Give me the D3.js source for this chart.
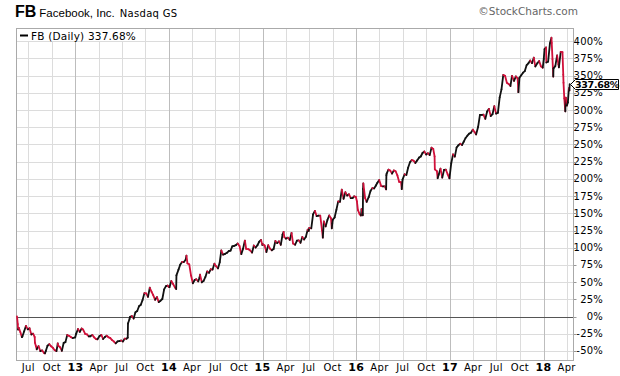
<!DOCTYPE html>
<html><head><meta charset="utf-8">
<script src="https://cdn.jsdelivr.net/npm/d3@7"></script>
<style>body{margin:0;background:#fff}svg{display:block}</style>
</head><body><svg id="c" width="620" height="376"></svg>
<script>
// ---- data: FB daily % change since first close ----
const dates2012 = ["05-18","05-21","05-22","05-25","05-31","06-06","06-08","06-15","06-22","06-29","07-06","07-13","07-20","07-26","07-27","07-31","08-03","08-10","08-17","08-24","08-31","09-04","09-07","09-14","09-21","09-28","10-05","10-12","10-19","10-24","10-26","11-02","11-09","11-16","11-23","11-30","12-07","12-14","12-21","12-31"];
const pct2012 = [0,-11.0,-18.9,-16.5,-22.6,-29.9,-29.1,-21.5,-13.6,-18.7,-17.0,-26.1,-24.8,-29.8,-38.0,-43.2,-47.6,-43.0,-50.2,-49.2,-52.8,-53.6,-50.4,-42.5,-40.2,-43.3,-45.3,-48.9,-50.3,-39.2,-42.6,-44.6,-49.8,-38.4,-37.2,-26.8,-28.1,-29.9,-31.3,-30.4];
const dates2013 = ["01-04","01-11","01-18","01-25","01-31","02-08","02-15","02-22","02-28","03-08","03-15","03-22","03-28","04-05","04-12","04-19","04-26","05-03","05-10","05-17","05-24","05-31","06-07","06-14","06-21","06-28","07-05","07-12","07-19","07-24","07-25","07-31","08-02","08-09","08-16","08-23","08-30","09-06","09-13","09-20","09-27","10-04","10-11","10-18","10-25","10-31","11-08","11-15","11-22","11-29","12-06","12-13","12-20","12-27","12-31"];
const pct2013 = [-24.8,-18.1,-22.4,-17.5,-19.0,-25.3,-25.9,-29.0,-28.7,-26.9,-30.3,-32.7,-33.1,-28.4,-26.7,-32.7,-29.8,-27.9,-30.2,-31.3,-34.3,-36.3,-39.1,-36.3,-35.8,-34.9,-36.3,-32.2,-32.3,-30.7,-10.1,-3.7,-0.5,0.7,-3.0,6.1,8.0,15.0,17.1,24.2,34.0,33.5,28.5,41.8,35.9,31.3,24.3,28.2,20.9,23.0,25.4,39.5,44.2,45.0,43.0];
const dates2014 = ["01-03","01-10","01-17","01-24","01-29","01-30","02-07","02-14","02-21","02-28","03-07","03-10","03-14","03-21","03-28","04-04","04-11","04-17","04-25","04-30","05-02","05-09","05-16","05-23","05-30","06-06","06-13","06-20","06-27","07-03","07-11","07-18","07-24","07-31","08-08","08-15","08-22","08-29","09-05","09-12","09-19","09-26","10-03","10-10","10-17","10-24","10-29","11-07","11-14","11-21","11-28","12-05","12-12","12-19","12-26","12-31"];
const pct2014 = [42.7,51.6,47.3,42.4,40.0,59.8,68.2,75.5,79.4,79.1,82.6,88.4,77.1,75.9,59.5,48.4,53.1,54.2,51.0,56.4,60.8,49.7,51.8,57.5,65.6,63.5,68.7,68.3,76.8,73.4,69.9,79.0,96.1,90.0,91.1,92.6,95.1,95.7,102.1,102.7,103.8,106.1,102.6,90.7,98.7,110.4,98.4,97.8,95.9,92.9,103.2,100.2,103.6,108.9,111.3,104.1];
const dates2015 = ["01-02","01-09","01-16","01-23","01-30","02-06","02-13","02-20","02-27","03-06","03-13","03-20","03-24","03-27","04-02","04-10","04-17","04-24","04-30","05-08","05-15","05-22","05-29","06-05","06-12","06-19","06-26","06-30","07-02","07-10","07-17","07-24","07-31","08-07","08-14","08-21","08-24","08-28","09-04","09-11","09-18","09-25","09-28","09-30","10-02","10-09","10-16","10-23","10-30","11-06","11-13","11-20","11-27","12-04","12-11","12-18","12-24","12-31"];
const pct2015 = [105.2,103.3,93.7,103.6,98.6,96.2,98.1,109.8,106.6,109.3,104.2,119.2,123.1,115.3,113.3,114.6,111.3,121.4,106.0,104.3,110.3,110.7,107.1,115.6,111.9,115.8,126.3,124.3,128.9,128.1,148.4,153.6,145.9,146.7,146.7,125.1,114.7,138.1,130.9,140.3,146.9,142.7,128.1,135.2,140.8,143.9,155.1,167.3,166.7,184.5,171.1,180.7,175.8,177.7,172.0,172.1,174.7,173.8];
const dates2016 = ["01-04","01-08","01-15","01-20","01-22","01-27","01-28","01-29","02-05","02-11","02-19","02-26","03-04","03-11","03-18","03-24","03-31","04-08","04-15","04-22","04-27","04-28","04-29","05-06","05-13","05-20","05-27","06-03","06-10","06-17","06-24","06-27","06-30","07-08","07-15","07-22","07-29","08-05","08-12","08-19","08-26","09-02","09-09","09-16","09-23","09-30","10-07","10-14","10-21","10-28","11-02","11-03","11-11","11-14","11-18","11-25","12-02","12-09","12-16","12-23","12-30"];
const pct2016 = [167.4,154.6,148.4,146.8,156.2,147.1,185.4,193.5,172.2,166.6,173.5,182.3,186.6,186.1,190.4,194.4,198.4,189.4,189.1,189.2,184.8,205.3,207.6,213.4,212.1,207.7,212.3,211.1,205.0,195.6,195.4,185.0,198.9,206.7,205.7,216.5,224.2,227.4,226.6,223.2,226.9,230.9,232.5,237.6,239.9,235.5,237.4,234.5,245.5,243.4,232.6,213.9,211.3,201.0,206.1,214.9,201.9,213.1,213.5,206.7,200.9];
const dates2017 = ["01-06","01-13","01-20","01-27","02-02","02-10","02-17","02-24","03-03","03-10","03-17","03-24","03-31","04-07","04-13","04-21","04-28","05-05","05-12","05-19","05-26","06-02","06-09","06-16","06-23","06-30","07-07","07-14","07-21","07-28","08-04","08-11","08-18","08-25","08-31","09-08","09-15","09-22","09-25","09-29","10-06","10-13","10-20","10-27","11-03","11-10","11-17","11-24","11-30","12-08","12-15","12-22","12-29"];
const pct2017 = [222.8,235.7,232.3,245.7,248.5,251.0,249.3,254.3,259.5,262.8,265.8,267.1,271.6,268.2,264.6,275.8,293.0,293.0,293.2,287.3,297.9,301.8,291.3,294.0,305.6,294.9,296.1,318.4,330.1,351.1,349.8,339.6,337.9,335.0,349.8,342.4,349.0,346.1,326.0,346.9,350.5,354.4,356.7,365.3,368.0,372.0,368.2,376.1,363.4,368.2,371.3,363.5,361.6];
const dates2018 = ["01-02","01-05","01-11","01-12","01-19","01-26","02-01","02-02","02-05","02-08","02-09","02-16","02-23","02-28","03-02","03-09","03-16","03-19","03-20","03-23","03-27","03-29","04-02","04-06","04-10","04-12","04-13"];
const pct2018 = [374.5,388.7,391.2,369.2,370.3,397.0,405.1,397.7,374.1,348.8,360.7,363.9,379.4,366.4,362.0,384.5,384.1,351.4,339.8,316.9,298.1,318.0,306.5,311.2,331.7,328.6,337.68];

const yTickValues = [-50,-25,0,25,50,75,100,125,150,175,200,225,250,275,300,325,350,375,400];
const xTickLabels = ["Jul","Oct","13","Apr","Jul","Oct","14","Apr","Jul","Oct","15","Apr","Jul","Oct","16","Apr","Jul","Oct","17","Apr","Jul","Oct","18","Apr"];
const legendText = "FB (Daily) 337.68%";
const lastLabel = "337.68%";

// ---- assemble ----
const parse = d3.timeParse("%Y-%m-%d");
const years = [[2012,dates2012,pct2012],[2013,dates2013,pct2013],[2014,dates2014,pct2014],[2015,dates2015,pct2015],[2016,dates2016,pct2016],[2017,dates2017,pct2017],[2018,dates2018,pct2018]];
const data = [];
years.forEach(([yr, ds, vs]) => ds.forEach((d, i) => data.push({date: parse(yr + "-" + d), v: vs[i]})));

const svg = d3.select("#c");
const L = 16.5, R = 573.5, T = 28.5, B = 360.5;
const x = d3.scaleTime().domain([parse("2012-05-18"), parse("2018-04-26")]).range([17, 573]);
const y = d3.scaleLinear().domain([-63.2, 419.3]).range([360, 28]);

// title
const title = svg.append("text").attr("x", 15).attr("y", 17).attr("font-family", "Liberation Sans, Arial, sans-serif");
title.append("tspan").attr("font-size", 16).attr("font-weight", "bold").text("FB");
title.append("tspan").attr("font-size", 11.5).attr("dx", 3).text("Facebook, Inc.");
title.append("tspan").attr("font-size", 10).attr("dx", 5).attr("font-family", "DejaVu Sans, sans-serif").attr("letter-spacing", 0.3).text("Nasdaq GS");
svg.append("text").attr("x", 578).attr("y", 15).attr("text-anchor", "end")
  .attr("font-family", "DejaVu Sans, sans-serif").attr("font-size", 10.5).attr("fill", "#666").text("\u00A9StockCharts.com");

// grid
const xTicks = d3.timeMonth.every(3).range(parse("2012-07-01"), parse("2018-04-26"));
const g = svg.append("g");
g.selectAll("line.h").data(yTickValues).join("line")
  .attr("x1", L).attr("x2", R).attr("y1", d => Math.round(y(d)) + 0.5).attr("y2", d => Math.round(y(d)) + 0.5)
  .attr("stroke", "#dcdcdc").attr("stroke-width", 1);
g.selectAll("line.v").data(xTicks).join("line")
  .attr("x1", d => Math.round(x(d)) + 0.5).attr("x2", d => Math.round(x(d)) + 0.5)
  .attr("y1", T).attr("y2", B)
  .attr("stroke", d => d.getMonth() === 0 ? "#bdbdbd" : "#dcdcdc");
g.append("line").attr("x1", L).attr("x2", R).attr("y1", Math.round(y(0)) + 0.5).attr("y2", Math.round(y(0)) + 0.5).attr("stroke", "#555");

// x labels
svg.append("g").selectAll("text").data(xTicks).join("text")
  .attr("x", d => x(d)).attr("y", 371).attr("text-anchor", "middle")
  .attr("font-family", "DejaVu Sans, sans-serif").attr("font-size", d => d.getMonth() === 0 ? 11 : 10)
  .attr("font-weight", d => d.getMonth() === 0 ? "bold" : "normal").attr("letter-spacing", 0.3)
  .text((d, i) => xTickLabels[i]);

// y labels
svg.append("g").selectAll("text").data(yTickValues).join("text")
  .attr("x", 603).attr("y", d => y(d) + 3.5).attr("text-anchor", "end")
  .attr("font-family", "DejaVu Sans, sans-serif").attr("font-size", 10).attr("letter-spacing", 0.2)
  .text(d => d + "%");
svg.append("g").selectAll("line").data(yTickValues).join("line")
  .attr("x1", R).attr("x2", R + 3).attr("y1", d => Math.round(y(d)) + 0.5).attr("y2", d => Math.round(y(d)) + 0.5)
  .attr("stroke", "#999");

// legend box
svg.append("rect").attr("x", L + 0.5).attr("y", T + 0.5).attr("width", 124).attr("height", 12).attr("fill", "#fff");
svg.append("line").attr("x1", 20).attr("x2", 28).attr("y1", 35.5).attr("y2", 35.5).attr("stroke", "#000").attr("stroke-width", 2);
svg.append("text").attr("x", 31).attr("y", 39.5).attr("font-family", "DejaVu Sans, sans-serif").attr("font-size", 10.5).attr("letter-spacing", 0.2).text(legendText);

// border
svg.append("rect").attr("x", L).attr("y", T).attr("width", R - L).attr("height", B - T).attr("fill", "none").attr("stroke", "#aaa");

// price line segments: black up, red down
const seg = [];
for (let i = 1; i < data.length; i++) seg.push([data[i - 1], data[i]]);
svg.append("g").selectAll("line").data(seg).join("line")
  .attr("x1", d => x(d[0].date)).attr("y1", d => y(d[0].v))
  .attr("x2", d => x(d[1].date)).attr("y2", d => y(d[1].v))
  .attr("stroke", d => d[1].v >= d[0].v ? "#111" : "#d0103a")
  .attr("stroke-width", 1.8).attr("stroke-linecap", "round");

// last value tag
const last = data[data.length - 1];
const ly = Math.round(y(last.v)) + 0.5;
svg.append("path").attr("d", `M570.5,${ly} L575.5,${ly - 5} L618.5,${ly - 5} L618.5,${ly + 5} L575.5,${ly + 5} Z`)
  .attr("fill", "#fff").attr("stroke", "#000").attr("stroke-width", 1);
svg.append("text").attr("x", 597).attr("y", ly + 3.5).attr("text-anchor", "middle")
  .attr("font-family", "DejaVu Sans, sans-serif").attr("font-size", 9.5).attr("font-weight", "bold")
  .attr("letter-spacing", -0.3).text(lastLabel);
</script></body></html>
